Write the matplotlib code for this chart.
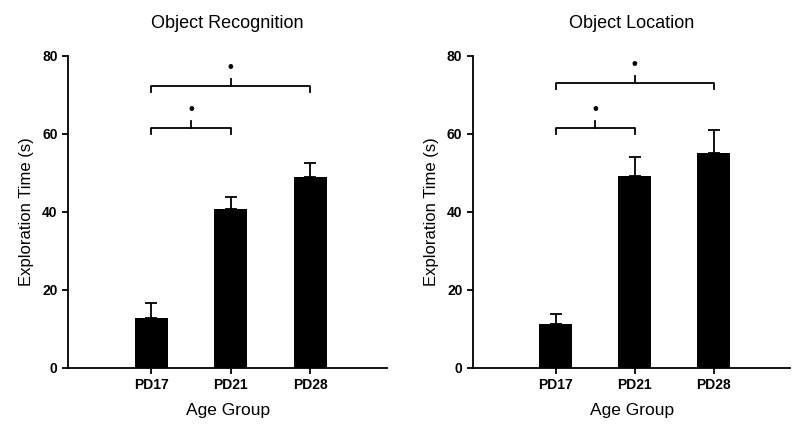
import numpy as np
import matplotlib
matplotlib.use('Agg')
import matplotlib.pyplot as plt

plt.rcParams['font.family'] = ['Liberation Sans', 'DejaVu Sans']

groups = ['PD17', 'PD21', 'PD28']

# mean exploration time and SEM per panel
recog_mean = [12.8, 40.8, 49.0]
recog_sem = [3.9, 3.0, 3.6]
loc_mean = [11.3, 49.2, 55.1]
loc_sem = [2.5, 4.9, 5.9]

# significance brackets: (start group, end group, bracket height)
recog_brackets = [(0, 1, 61.5), (0, 2, 72.3)]
loc_brackets = [(0, 1, 61.5), (0, 2, 73.0)]


def draw_panel(ax, means, sems, brackets, title):
    x = np.arange(len(groups))
    ax.bar(x, means, width=0.42, color='black')
    ax.errorbar(x, means, yerr=[np.zeros(len(sems)), sems], fmt='none',
                ecolor='black', elinewidth=1.3, capsize=4, capthick=1.3)

    for i0, i1, h in brackets:
        mid = (i0 + i1) / 2
        ax.plot([i0, i0, i1, i1], [h - 1.6, h, h, h - 1.6], color='black', lw=1.3)
        ax.plot([mid, mid], [h, h + 1.8], color='black', lw=1.3)
        ax.text(mid, h + 4.8, '•', ha='center', va='center', fontsize=12,
                fontweight='bold', color='black')

    ax.set_xlim(-1.05, 2.97)
    ax.set_ylim(0, 80)
    ax.set_yticks([0, 20, 40, 60, 80])
    ax.set_xticks(x)
    ax.set_xticklabels(groups, fontweight='bold', fontsize=10)
    for lab in ax.get_yticklabels():
        lab.set_fontweight('bold')
        lab.set_fontsize(10)
    ax.spines['top'].set_visible(False)
    ax.spines['right'].set_visible(False)
    ax.spines['left'].set_linewidth(1.3)
    ax.spines['bottom'].set_linewidth(1.3)
    ax.tick_params(direction='out', length=4, width=1.3)
    ax.set_ylabel('Exploration Time (s)', fontsize=12, labelpad=6)
    ax.set_xlabel('Age Group', fontsize=12.5, labelpad=8)
    ax.set_title(title, fontsize=13, pad=20)


fig = plt.figure(figsize=(8, 4.4), dpi=100)
ax1 = fig.add_axes([0.085, 0.164, 0.399, 0.709])
ax2 = fig.add_axes([0.591, 0.164, 0.397, 0.709])

draw_panel(ax1, recog_mean, recog_sem, recog_brackets, 'Object Recognition')
draw_panel(ax2, loc_mean, loc_sem, loc_brackets, 'Object Location')

fig.savefig('out.png', dpi=100)
